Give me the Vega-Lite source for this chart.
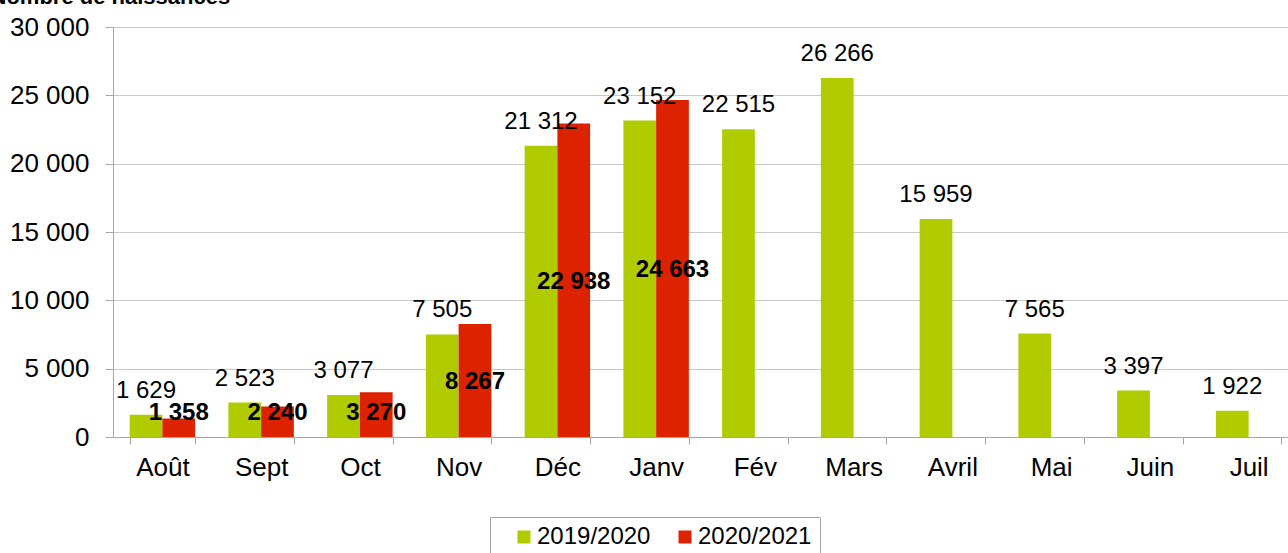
{
  "$schema": "https://vega.github.io/schema/vega-lite/v6.json",
  "width": 1185,
  "height": 410,
  "autosize": {"type": "none"},
  "padding": {"left": 113, "top": 27, "right": 0, "bottom": 116},
  "config": {
    "view": {"stroke": null},
    "font": "Liberation Sans",
    "locale": {"number": {"decimal": ",", "thousands": " ", "grouping": [3], "currency": ["", " €"]}}
  },
  "data": {
    "values": [
      {"month": "Août", "season": "2019/2020", "v": 1629},
      {"month": "Sept", "season": "2019/2020", "v": 2523},
      {"month": "Oct", "season": "2019/2020", "v": 3077},
      {"month": "Nov", "season": "2019/2020", "v": 7505},
      {"month": "Déc", "season": "2019/2020", "v": 21312},
      {"month": "Janv", "season": "2019/2020", "v": 23152},
      {"month": "Fév", "season": "2019/2020", "v": 22515},
      {"month": "Mars", "season": "2019/2020", "v": 26266},
      {"month": "Avril", "season": "2019/2020", "v": 15959},
      {"month": "Mai", "season": "2019/2020", "v": 7565},
      {"month": "Juin", "season": "2019/2020", "v": 3397},
      {"month": "Juil", "season": "2019/2020", "v": 1922},
      {"month": "Août", "season": "2020/2021", "v": 1358},
      {"month": "Sept", "season": "2020/2021", "v": 2240},
      {"month": "Oct", "season": "2020/2021", "v": 3270},
      {"month": "Nov", "season": "2020/2021", "v": 8267},
      {"month": "Déc", "season": "2020/2021", "v": 22938},
      {"month": "Janv", "season": "2020/2021", "v": 24663}
    ]
  },
  "transform": [{"calculate": "max(datum.v / 2, 1866)", "as": "mid"}],
  "encoding": {
    "x": {
      "field": "month",
      "type": "nominal",
      "sort": ["Août", "Sept", "Oct", "Nov", "Déc", "Janv", "Fév", "Mars", "Avril", "Mai", "Juin", "Juil"],
      "scale": {"paddingInner": 0.337, "paddingOuter": 0.1685},
      "axis": {
        "title": null,
        "labelAngle": 0,
        "labelFontSize": 26,
        "labelColor": "black",
        "labelPadding": 10,
        "tickBand": "extent",
        "tickSize": 7,
        "tickColor": "#a6a6a6",
        "domainColor": "#a6a6a6",
        "grid": false
      }
    },
    "xOffset": {"field": "season", "type": "nominal", "sort": ["2019/2020", "2020/2021"]}
  },
  "layer": [
    {
      "mark": {"type": "bar"},
      "encoding": {
        "y": {
          "field": "v",
          "type": "quantitative",
          "scale": {"domain": [0, 30000], "nice": false},
          "axis": {
            "values": [0, 5000, 10000, 15000, 20000, 25000, 30000],
            "format": ",d",
            "labelFontSize": 26,
            "labelColor": "black",
            "labelPadding": 16,
            "tickSize": 8,
            "tickColor": "#a6a6a6",
            "domainColor": "#a6a6a6",
            "gridColor": "#c8c8c8",
            "title": "Nombre de naissances",
            "titleAngle": 0,
            "titleAlign": "left",
            "titleBaseline": "alphabetic",
            "titleX": -123,
            "titleY": -24,
            "titleFontSize": 22,
            "titleFontWeight": "bold",
            "titleColor": "black"
          }
        },
        "color": {
          "field": "season",
          "type": "nominal",
          "scale": {"domain": ["2019/2020", "2020/2021"], "range": ["#b0cc00", "#dd2200"]},
          "legend": {
            "orient": "none",
            "legendX": 377,
            "legendY": 490,
            "direction": "horizontal",
            "title": null,
            "strokeColor": "#a6a6a6",
            "fillColor": "white",
            "padding": 8,
            "symbolType": "square",
            "symbolSize": 169,
            "symbolStrokeWidth": 0,
            "symbolOffset": 14,
            "labelFontSize": 24,
            "labelColor": "black",
            "labelOffset": 1,
            "columnPadding": 8
          }
        }
      }
    },
    {
      "transform": [{"filter": "datum.season == '2019/2020'"}],
      "mark": {"type": "text", "fontSize": 24, "baseline": "alphabetic", "dy": -17, "color": "black"},
      "encoding": {
        "y": {"field": "v", "type": "quantitative"},
        "text": {"field": "v", "type": "quantitative", "format": ",d"}
      }
    },
    {
      "transform": [{"filter": "datum.season == '2020/2021'"}],
      "mark": {"type": "text", "fontSize": 24, "fontWeight": "bold", "baseline": "alphabetic", "dy": 8.5, "color": "black"},
      "encoding": {
        "y": {"field": "mid", "type": "quantitative"},
        "text": {"field": "v", "type": "quantitative", "format": ",d"}
      }
    }
  ]
}
